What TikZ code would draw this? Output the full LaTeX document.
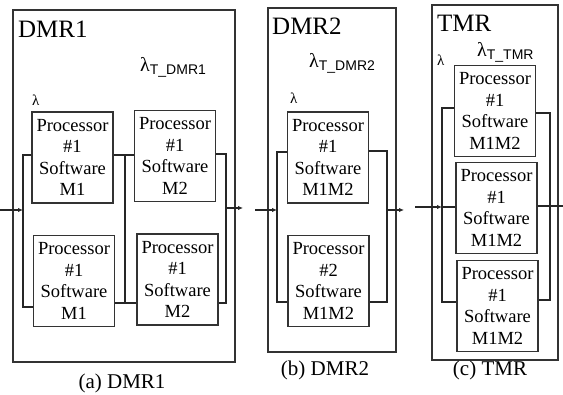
\documentclass[tikz,border=0pt]{standalone}
\usepackage{fontspec}
\setmainfont{Liberation Serif}
\setsansfont{Liberation Sans}
\usetikzlibrary{arrows.meta}
\tikzset{
  frame/.style={draw=black!80, line width=1.3pt, inner sep=0pt},
  proc/.style={draw=black!80, line width=1.3pt, minimum width=81pt, minimum height=91pt,
    inner sep=0pt, align=center, font=\rmfamily\fontsize{18.5}{21.5}\selectfont},
  wire/.style={draw=black!85, line width=1.6pt},
  inarrow/.style={wire, -{Latex[length=5pt,width=4.5pt]}},
  heading/.style={anchor=base west, inner sep=0pt, font=\rmfamily\fontsize{25}{25}\selectfont},
  rate/.style={anchor=base west, inner sep=0pt, font=\rmfamily\fontsize{20}{20}\selectfont},
  lam/.style={anchor=base west, inner sep=0pt, font=\rmfamily\fontsize{15}{15}\selectfont},
  caption/.style={inner sep=0pt, font=\rmfamily\fontsize{21}{21}\selectfont}
}
\newcommand{\ptext}[2]{Processor\\#1\\Software\\#2}
\newcommand{\subT}[1]{\raisebox{-3pt}{\sffamily\fontsize{14}{14}\selectfont #1}}
\begin{document}
\begin{tikzpicture}[x=1pt,y=-1pt]
\useasboundingbox (0,0) rectangle (563,395);

% ---------------- (a) DMR1 ----------------
\node[frame, minimum width=222pt, minimum height=352pt] (oa) at (124,186) {};
\node[heading] (ha) at (18,38) {DMR1};
\node[rate] (ra) at (140,72) {λ\subT{T\_DMR1}};
\node[lam] (la) at (32,106) {λ};
\node[proc] (A1) at (72.5,157.5) {\ptext{\#1}{M1}};
\node[proc] (A2) at (175,156) {\ptext{\#1}{M2}};
\node[proc] (A3) at (74,281) {\ptext{\#1}{M1}};
\node[proc] (A4) at (177.5,279.5) {\ptext{\#1}{M2}};
\coordinate (ia) at (0,210);
\coordinate (la1) at (23,155);
\coordinate (la2) at (23,307);
\coordinate (lam) at (23,210);
\coordinate (ma1) at (125,155);
\coordinate (ma2) at (125,303);
\coordinate (ra1) at (226,154);
\coordinate (ra2) at (226,303);
\coordinate (ram) at (226,208);
\coordinate (oa2) at (243,208);
\draw[wire] (A1.west |- la1) -- (la1) -- (la2) -- (A3.west |- la2);
\draw[wire] (A1.east |- ma1) -- (ma1) -- (A2.west |- ma1);
\draw[wire] (A3.east |- ma2) -- (ma2) -- (A4.west |- ma2);
\draw[wire] (ma1) -- (ma2);
\draw[wire] (A2.east |- ra1) -- (ra1) -- (ra2) -- (A4.east |- ra2);
\draw[inarrow] (ia) -- (lam);
\draw[inarrow] (ram) -- (oa2);
\node[caption] (ca) at (122,383) {(a) DMR1};

% ---------------- (b) DMR2 ----------------
\node[frame, minimum width=128pt, minimum height=344pt] (ob) at (332,180) {};
\node[heading] (hb) at (272,35) {DMR2};
\node[rate] (rb) at (309,68) {λ\subT{T\_DMR2}};
\node[lam] (lb) at (290,104) {λ};
\node[proc] (B1) at (328,157.5) {\ptext{\#1}{M1M2}};
\node[proc] (B2) at (328.5,281) {\ptext{\#2}{M1M2}};
\coordinate (ib) at (255,210);
\coordinate (lb1) at (277,152);
\coordinate (lb2) at (277,302);
\coordinate (lbm) at (277,210);
\coordinate (rb1) at (387,151);
\coordinate (rb2) at (387,302);
\coordinate (rbm) at (387,210);
\coordinate (ob2) at (404,210);
\draw[wire] (B1.west |- lb1) -- (lb1) -- (lb2) -- (B2.west |- lb2);
\draw[wire] (B1.east |- rb1) -- (rb1) -- (rb2) -- (B2.east |- rb2);
\draw[inarrow] (ib) -- (lbm);
\draw[inarrow] (rbm) -- (ob2);
\node[caption] (cb) at (325,370) {(b) DMR2};

% ---------------- (c) TMR ----------------
\node[frame, minimum width=126pt, minimum height=355pt] (oc) at (495,182.5) {};
\node[heading] (hc) at (437,32) {TMR};
\node[rate] (rc) at (477,57) {λ\subT{T\_TMR}};
\node[lam] (lc) at (437,66) {λ};
\node[proc] (C1) at (495,111) {\ptext{\#1}{M1M2}};
\node[proc] (C2) at (496.5,208) {\ptext{\#1}{M1M2}};
\node[proc] (C3) at (497.5,306) {\ptext{\#1}{M1M2}};
\coordinate (ic) at (415,207);
\coordinate (lc1) at (442,108);
\coordinate (lc2) at (442,302);
\coordinate (lcm) at (442,207);
\coordinate (rc1) at (550,113);
\coordinate (rc2) at (550,300);
\coordinate (rcm) at (550,206);
\coordinate (oc2) at (563,206);
\draw[wire] (C1.west |- lc1) -- (lc1) -- (lc2) -- (C3.west |- lc2);
\draw[wire] (lcm) -- (C2.west |- lcm);
\draw[wire] (C1.east |- rc1) -- (rc1) -- (rc2) -- (C3.east |- rc2);
\draw[wire] (C2.east |- rcm) -- (rcm);
\draw[inarrow] (ic) -- (lcm);
\draw[wire] (rcm) -- (oc2);
\node[caption] (cc) at (490,370) {(c) TMR};
\end{tikzpicture}
\end{document}
